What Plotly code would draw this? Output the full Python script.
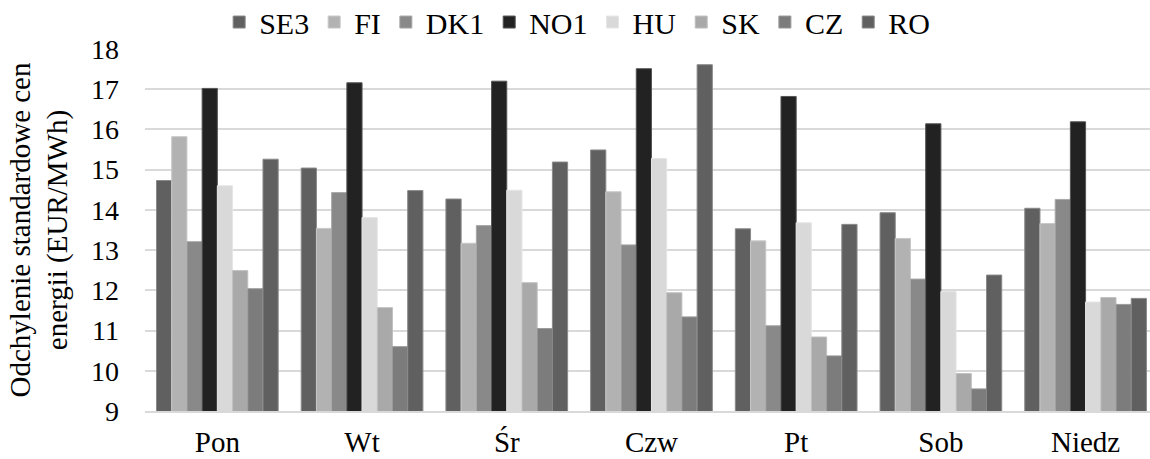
import plotly.graph_objects as go

days = ["Pon", "Wt", "Śr", "Czw", "Pt", "Sob", "Niedz"]
series_names = ["SE3", "FI", "DK1", "NO1", "HU", "SK", "CZ", "RO"]

SE3 = [14.73, 15.04, 14.27, 15.49, 13.53, 13.93, 14.04]
FI = [15.82, 13.54, 13.17, 14.45, 13.23, 13.29, 13.66]
DK1 = [13.21, 14.43, 13.61, 13.13, 11.12, 12.28, 14.26]
NO1 = [17.02, 17.16, 17.20, 17.51, 16.82, 16.14, 16.19]
HU = [14.60, 13.81, 14.49, 15.28, 13.68, 11.97, 11.71]
SK = [12.49, 11.57, 12.19, 11.94, 10.84, 9.93, 11.82]
CZ = [12.04, 10.60, 11.05, 11.34, 10.37, 9.55, 11.65]
RO = [15.26, 14.48, 15.19, 17.61, 13.64, 12.38, 11.80]

values = [SE3, FI, DK1, NO1, HU, SK, CZ, RO]
colors = ["#606060", "#b2b2b2", "#898989", "#222222", "#d9d9d9", "#a9a9a9", "#7c7c7c", "#606060"]
edge = ["#8a8a8a", "#c8c8c8", "#a8a8a8", "#555555", "#e6e6e6", "#c0c0c0", "#9a9a9a", "#8a8a8a"]

fig = go.Figure()
for name, vals, c, e in zip(series_names, values, colors, edge):
    fig.add_trace(go.Bar(
        name=name, x=days, y=vals,
        marker=dict(color=c, line=dict(color=e, width=1)),
    ))

font_family = "Liberation Serif"
fig.update_layout(
    width=1150, height=459,
    barmode="group", bargap=0.159, bargroupgap=0,
    plot_bgcolor="white", paper_bgcolor="white",
    margin=dict(l=145, r=0, t=49, b=48, autoexpand=False),
    font=dict(family=font_family, size=28, color="#000000"),
    legend=dict(
        orientation="h", x=0.43, xanchor="center",
        yref="container", y=0.952, yanchor="middle",
        font=dict(family=font_family, size=30), itemwidth=30, traceorder="normal",
        bgcolor="rgba(0,0,0,0)",
    ),
    showlegend=True,
)
fig.update_xaxes(
    range=[-0.5, 6.445], showgrid=False, showline=True, automargin=False,
    linecolor="#d9d9d9", linewidth=2, ticks="",
    tickfont=dict(family=font_family, size=29),
    ticklabelstandoff=4,
)
fig.update_yaxes(
    range=[9, 18], dtick=1, showgrid=True, gridcolor="#d9d9d9", gridwidth=1.5,
    zeroline=False, showline=False, ticks="", automargin=False,
    tickfont=dict(family=font_family, size=28),
    ticklabelstandoff=25,
    title=dict(text="Odchylenie standardowe cen<br>energii (EUR/MWh)",
               font=dict(family=font_family, size=29), standoff=14),
)

fig.write_html("out.html")
